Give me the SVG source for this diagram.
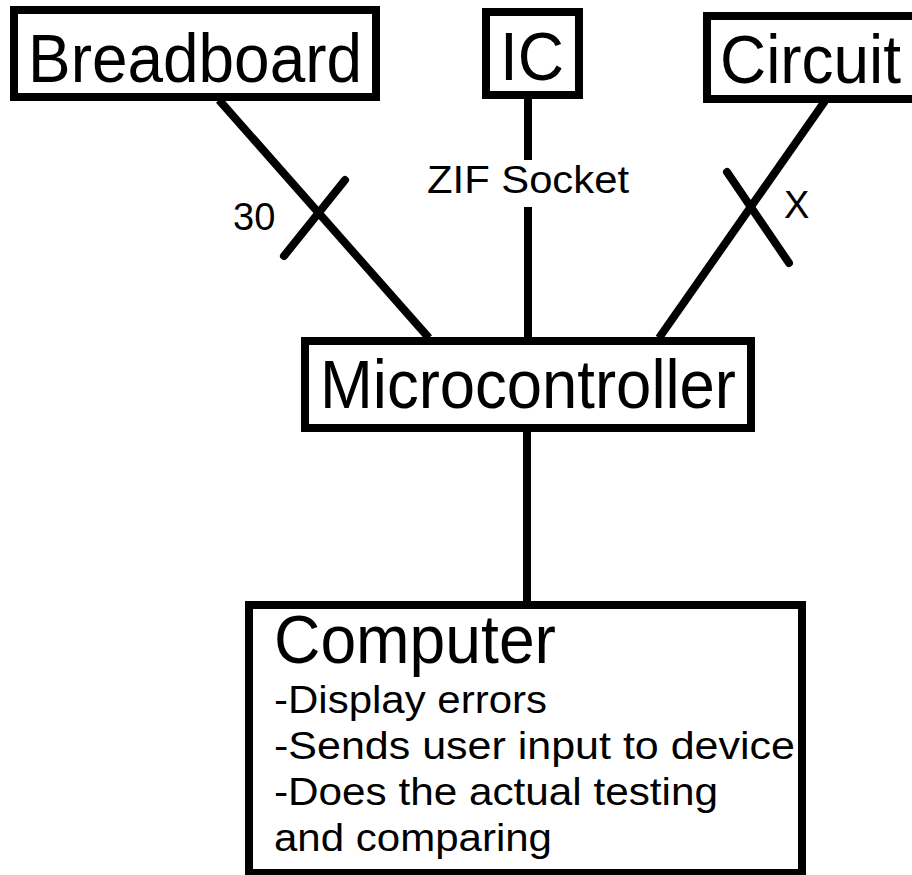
<svg xmlns="http://www.w3.org/2000/svg" width="912" height="875" viewBox="0 0 912 875">
  <style>
    .box { fill: #ffffff; stroke: #000000; stroke-width: 8; }
    .wire { stroke: #000000; stroke-width: 8; fill: none; }
    .tick { stroke: #000000; stroke-width: 8; stroke-linecap: round; fill: none; }
    .big { font-family: "Liberation Sans", Arial, sans-serif; font-size: 68px; fill: #000000; }
    .small { font-family: "Liberation Sans", Arial, sans-serif; font-size: 38px; fill: #000000; }
  </style>
  <rect width="912" height="875" fill="#ffffff"/>

  <!-- connectors -->
  <g id="connectors">
    <line class="wire" x1="219" y1="100" x2="429" y2="338"/>
    <line class="tick" x1="284" y1="256" x2="345" y2="180"/>
    <line class="wire" x1="528" y1="99" x2="528" y2="160"/>
    <line class="wire" x1="528" y1="207" x2="528" y2="338"/>
    <line class="wire" x1="825" y1="101" x2="659" y2="338"/>
    <line class="tick" x1="727" y1="172" x2="789" y2="263"/>
    <line class="wire" x1="527" y1="431" x2="527" y2="602"/>
    <text class="small" x="233" y="230">30</text>
    <text class="small" x="528" y="193" text-anchor="middle" textLength="202" lengthAdjust="spacingAndGlyphs">ZIF Socket</text>
    <text class="small" x="784" y="218">X</text>
  </g>

  <g id="breadboard">
    <rect class="box" x="14" y="10" width="362" height="87"/>
    <text class="big" x="28" y="82" textLength="334" lengthAdjust="spacingAndGlyphs">Breadboard</text>
  </g>

  <g id="ic">
    <rect class="box" x="486" y="12" width="93" height="83"/>
    <text class="big" x="532" y="80" text-anchor="middle" textLength="64" lengthAdjust="spacingAndGlyphs">IC</text>
  </g>

  <g id="circuit">
    <rect class="box" x="707" y="16" width="230" height="83"/>
    <text class="big" x="720" y="83" textLength="181" lengthAdjust="spacingAndGlyphs">Circuit</text>
  </g>

  <g id="microcontroller">
    <rect class="box" x="305" y="341" width="446" height="87"/>
    <text class="big" x="528" y="408" text-anchor="middle" textLength="416" lengthAdjust="spacingAndGlyphs">Microcontroller</text>
  </g>

  <g id="computer">
    <rect class="box" x="249" y="605" width="553" height="268"/>
    <text class="big" x="274" y="663" font-size="66" textLength="282" lengthAdjust="spacingAndGlyphs">Computer</text>
    <text class="small" x="274" y="713" textLength="273" lengthAdjust="spacingAndGlyphs">-Display errors</text>
    <text class="small" x="274" y="759" textLength="521" lengthAdjust="spacingAndGlyphs">-Sends user input to device</text>
    <text class="small" x="274" y="805" textLength="444" lengthAdjust="spacingAndGlyphs">-Does the actual testing</text>
    <text class="small" x="274" y="851" textLength="278" lengthAdjust="spacingAndGlyphs">and comparing</text>
  </g>
</svg>
